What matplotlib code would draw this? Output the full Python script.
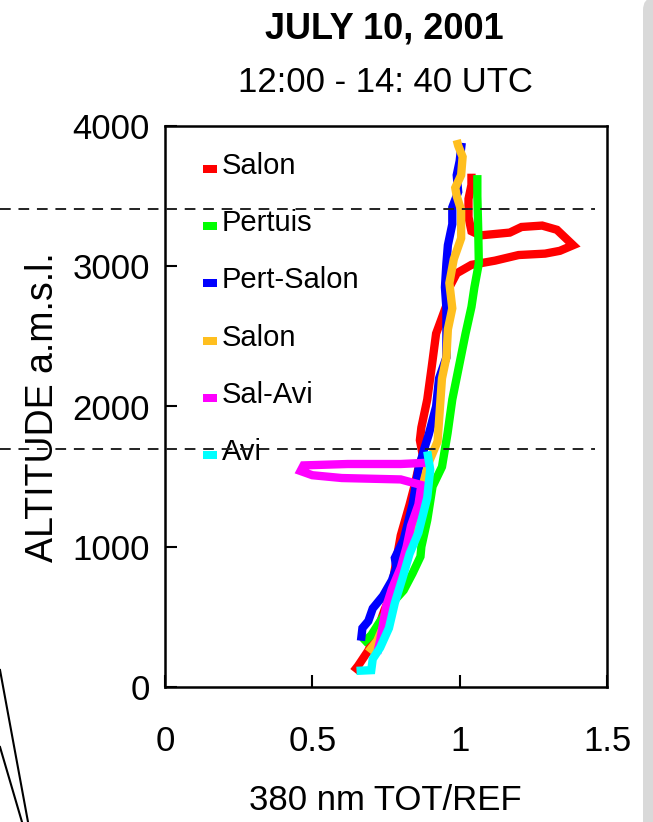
import matplotlib
matplotlib.use("Agg")
import matplotlib.pyplot as plt
from matplotlib.lines import Line2D
from matplotlib.patches import Rectangle, FancyBboxPatch
from matplotlib.transforms import blended_transform_factory

plt.rcParams['font.family'] = ['Liberation Sans', 'DejaVu Sans']

# ---- profiles: 380 nm TOT/REF ratio versus altitude (m a.s.l.) ----
series_names = ["Salon", "Pertuis", "Pert-Salon", "Salon", "Sal-Avi", "Avi"]
series_colors = ["#ff0000", "#00ff00", "#0000ff", "#ffbf1f", "#ff00ff", "#00ffff"]

salon1_ratio = [0.64, 0.655, 0.69, 0.72, 0.745, 0.765, 0.785, 0.80, 0.83, 0.845, 0.86, 0.875,
                0.865, 0.87, 0.89, 0.905, 0.92, 0.955, 0.965, 0.99, 1.04, 1.12, 1.20, 1.29,
                1.34, 1.385, 1.36, 1.33, 1.28, 1.21, 1.17, 1.12, 1.07, 1.04, 1.03, 1.03, 1.04, 1.04]
salon1_alt = [110, 150, 260, 400, 550, 650, 900, 1080, 1300, 1420, 1560, 1650,
              1760, 1850, 2050, 2280, 2520, 2720, 2850, 2950, 3010, 3040, 3080, 3090,
              3110, 3150, 3200, 3260, 3290, 3280, 3240, 3230, 3220, 3250, 3350, 3480, 3580, 3660]

pertuis_ratio = [0.67, 0.70, 0.74, 0.78, 0.81, 0.84, 0.867, 0.87, 0.89, 0.908, 0.94, 0.959,
                 0.975, 0.997, 1.02, 1.04, 1.05, 1.065, 1.063, 1.06, 1.06]
pertuis_alt = [310, 370, 500, 620, 690, 810, 930, 1000, 1190, 1430, 1570, 1810,
               2050, 2280, 2520, 2710, 2850, 3020, 3260, 3500, 3650]

pertsalon_ratio = [0.665, 0.67, 0.69, 0.705, 0.74, 0.77, 0.785, 0.78, 0.81, 0.84, 0.86, 0.88,
                   0.895, 0.92, 0.93, 0.955, 0.955, 0.955, 0.95, 0.955, 0.96, 0.975, 0.975,
                   0.995, 0.99, 1.0, 1.007]
pertsalon_alt = [330, 420, 470, 560, 650, 760, 850, 920, 1050, 1300, 1550, 1700, 1800,
                 2000, 2200, 2350, 2550, 2700, 2850, 3020, 3150, 3300, 3420,
                 3530, 3650, 3750, 3880]

salon2_ratio = [0.69, 0.72, 0.745, 0.77, 0.79, 0.82, 0.85, 0.87, 0.895, 0.925, 0.93, 0.935,
                0.94, 0.955, 0.96, 0.975, 0.965, 0.98, 1.005, 1.005, 0.99, 0.985, 1.005,
                1.01, 0.995, 0.99]
salon2_alt = [250, 330, 450, 600, 720, 900, 1150, 1400, 1600, 1750, 1900, 2050,
              2200, 2350, 2550, 2700, 2880, 3050, 3200, 3400, 3500, 3560, 3650,
              3780, 3860, 3900]

salavi_ratio = [0.72, 0.73, 0.74, 0.75, 0.77, 0.80, 0.82, 0.835, 0.86, 0.87, 0.80, 0.60,
                0.50, 0.46, 0.47, 0.62, 0.80, 0.90]
salavi_alt = [240, 330, 450, 570, 700, 850, 1000, 1150, 1300, 1440, 1480, 1490,
              1510, 1540, 1580, 1590, 1590, 1600]

avi_ratio = [0.65, 0.70, 0.705, 0.73, 0.76, 0.78, 0.805, 0.83, 0.86, 0.89, 0.90, 0.89]
avi_alt = [115, 120, 200, 280, 420, 600, 770, 950, 1100, 1350, 1550, 1680]

layer_bounds_alt = [1700, 3410]

x_ticks = [0, 0.5, 1, 1.5]
x_ticklabels = ["0", "0.5", "1", "1.5"]
y_ticks = [0, 1000, 2000, 3000, 4000]
y_ticklabels = ["0", "1000", "2000", "3000", "4000"]

profiles = [(salon1_ratio, salon1_alt), (pertuis_ratio, pertuis_alt),
            (pertsalon_ratio, pertsalon_alt), (salon2_ratio, salon2_alt),
            (salavi_ratio, salavi_alt), (avi_ratio, avi_alt)]

W, H = 653, 822
fig = plt.figure(figsize=(W / 100, H / 100), dpi=100)
fig.patch.set_facecolor("white")

ax_l, ax_r, ax_t, ax_b = 165, 607, 126, 687
ax_w, ax_h = ax_r - ax_l, ax_b - ax_t
ax = fig.add_axes([ax_l / W, 1 - ax_b / H, ax_w / W, ax_h / H])

for (ratio, alt), color in zip(profiles, series_colors):
    ax.plot(ratio, alt, color=color, lw=6, solid_capstyle="butt", solid_joinstyle="miter")

ax.set_xlim(0, 1.5)
ax.set_ylim(0, 4000)
ax.set_xticks(x_ticks)
ax.set_xticklabels(x_ticklabels)
ax.set_yticks(y_ticks)
ax.set_yticklabels(y_ticklabels)
ax.tick_params(axis="both", direction="in", length=8.5, width=1.5, labelsize=25, colors="black")
ax.tick_params(axis="x", pad=27)
ax.tick_params(axis="y", pad=11)
for sp in ax.spines.values():
    sp.set_linewidth(1.8)
    sp.set_color("black")

ax.set_xlabel("380 nm TOT/REF", fontsize=25)
ax.xaxis.set_label_coords((385 - ax_l) / ax_w, (ax_b - 800) / ax_h)
ax.xaxis.label.set_va("center")
ax.set_ylabel("ALTITUDE a.m.s.l.", fontsize=27)
ax.yaxis.set_label_coords((43 - ax_l) / ax_w, (ax_b - 407) / ax_h)
ax.yaxis.label.set_va("center")

# legend: small colour bars with names
leg_base_px = 174
leg_step_px = 57.2
for i, (name, color) in enumerate(zip(series_names, series_colors)):
    base = leg_base_px + i * leg_step_px
    yb = (ax_b - base) / ax_h
    ax.add_patch(Rectangle(((203 - ax_l) / ax_w, yb + 1 / ax_h),
                           14 / ax_w, 8 / ax_h, transform=ax.transAxes,
                           color=color, lw=0, zorder=5))
    ax.text((222 - ax_l) / ax_w, yb, name, transform=ax.transAxes,
            fontsize=21, va="baseline", ha="left", zorder=5)

# boundary-layer levels, dashed across the panel
tr = blended_transform_factory(fig.transFigure, ax.transData)
for a in layer_bounds_alt:
    ax.plot([0, 595 / W], [a, a], transform=tr, clip_on=False, color="#222222",
            lw=1.4, linestyle=(0, (5.5, 4.0)), zorder=6)

fig.text(384 / W, 1 - 29 / H, "JULY 10, 2001", ha="center", va="center",
         fontsize=26, fontweight="bold")
fig.text(385 / W, 1 - 83 / H, "12:00 - 14: 40 UTC", ha="center", va="center", fontsize=25)

# grey page margin on the right
fig.add_artist(FancyBboxPatch((643 / W, -0.05), 0.2, 1.05 + 2 / H,
                              boxstyle="round,pad=0,rounding_size=0.015",
                              transform=fig.transFigure, facecolor="#d9d9d9",
                              edgecolor="none"))
# diagonal strokes at the lower left
fig.add_artist(Line2D([0, 28 / W], [1 - 670 / H, 0], transform=fig.transFigure,
                      color="black", lw=1.5))
fig.add_artist(Line2D([0, 22 / W], [1 - 747 / H, 0], transform=fig.transFigure,
                      color="black", lw=1.5))

fig.savefig("out.png", dpi=100)
